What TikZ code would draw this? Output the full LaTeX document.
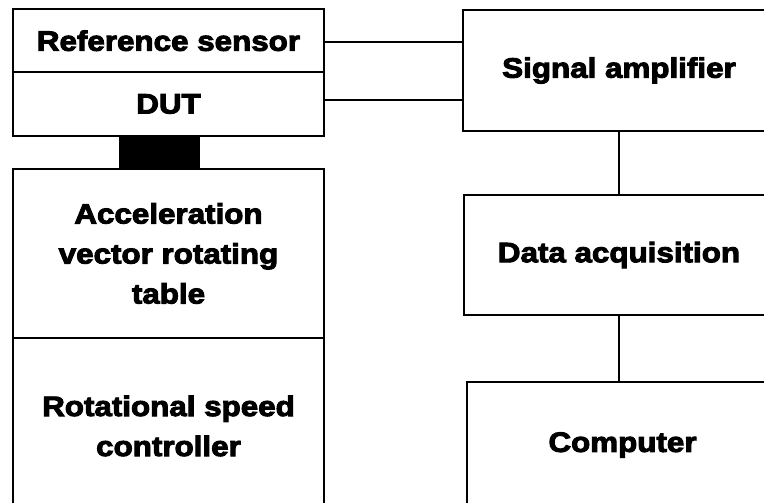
\documentclass[tikz,border=0pt]{standalone}
\usepackage{fontspec}
\setmainfont{Liberation Sans}[UprightFont=* Bold, FakeStretch=1.12, FakeBold=3.5]
\begin{document}
\begin{tikzpicture}[x=1pt,y=-1pt,
  box/.style={draw=black, line width=2pt, fill=white, align=center, inner sep=0pt,
    font=\fontsize{28}{40}\selectfont},
  wire/.style={draw=black, line width=1.8pt}]
\useasboundingbox (0,0) rectangle (764,503);
\clip (0,0) rectangle (764,503);
% left column
\node[box, minimum width=311pt, minimum height=62.5pt] (ref) at (168.5,40.75) {Reference sensor};
\node[box, minimum width=311pt, minimum height=64pt] (dut) at (168.5,104) {DUT};
\node[fill=black, draw=black, minimum width=80pt, minimum height=33pt, inner sep=0pt] (mount) at (159,152.5) {};
\node[box, minimum width=311pt, minimum height=169pt] (acc) at (168.5,253.5) {Acceleration\\vector rotating\\table};
\node[box, minimum width=311pt, minimum height=176pt] (rot) at (168.5,426) {Rotational speed\\controller};
% right column
\node[box, minimum width=312pt, minimum height=121pt] (amp) at (619,70.5) {Signal amplifier};
\node[box, minimum width=310pt, minimum height=120pt] (daq) at (619,255) {Data acquisition};
\node[box, minimum width=311pt, minimum height=126pt] (comp) at (622.5,445) {Computer};
% connectors
\draw[wire] ([yshift=-1.25pt]ref.east) -- ([yshift=-1.25pt]ref.east -| amp.west);
\draw[wire] ([yshift=4pt]dut.east) -- ([yshift=4pt]dut.east -| amp.west);
\draw[wire] (amp.south) -- (daq.north);
\draw[wire] (daq.south) -- (daq.south |- comp.north);
\end{tikzpicture}
\end{document}
